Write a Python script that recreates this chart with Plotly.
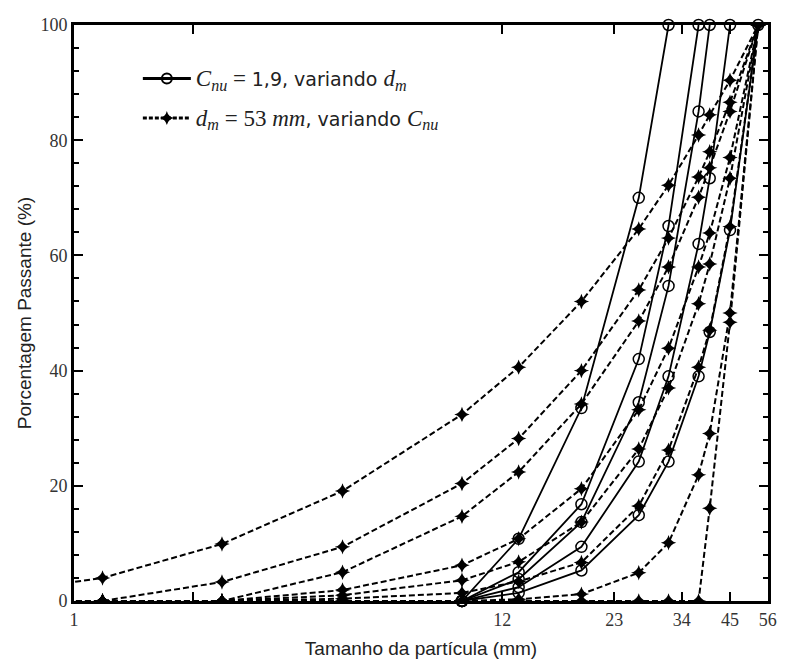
import math
import plotly.graph_objects as go

# Sieve openings (mm) used for the gradation curves
sieves = [0.6, 1.18, 2.36, 4.75, 9.5, 13.2, 19, 26.5, 31.5, 37.5, 40, 45, 53]

# d_m = 53 mm, varying C_nu (percent passing at every sieve)
dashed_curves = [
    [1.2, 4.0, 9.9, 19.1, 32.4, 40.6, 52.0, 64.6, 72.2, 80.9, 84.4, 90.4, 100],
    [0, 0, 3.3, 9.4, 20.4, 28.2, 40.0, 54.0, 63.0, 73.6, 78.0, 86.6, 100],
    [0, 0, 0, 5.0, 14.7, 22.4, 34.2, 48.6, 58.0, 70.1, 75.2, 85.0, 100],
    [0, 0, 0, 1.9, 6.2, 10.8, 19.5, 33.2, 43.9, 58.0, 63.9, 77.0, 100],
    [0, 0, 0, 1.0, 3.6, 6.8, 13.7, 26.4, 37.0, 51.6, 58.5, 73.4, 100],
    [0, 0, 0, 0.4, 1.4, 3.4, 6.7, 16.5, 26.2, 40.6, 47.0, 65.0, 100],
    [0, 0, 0, 0, 0, 0.3, 1.2, 4.9, 10.1, 21.9, 29.1, 50.0, 100],
    [0, 0, 0, 0, 0, 0, 0, 0, 0, 0, 16.1, 48.4, 100],
]

# C_nu = 1,9, varying d_m (sizes and percent passing)
solid_x = [
    [9.5, 13.2, 19, 26.5, 31.5],
    [9.5, 13.2, 19, 26.5, 31.5, 37.5],
    [9.5, 13.2, 19, 26.5, 31.5, 37.5, 40],
    [9.5, 13.2, 19, 26.5, 31.5, 37.5, 40, 45],
    [9.5, 13.2, 19, 26.5, 31.5, 37.5, 40, 45, 53],
]
solid_y = [
    [0, 10.8, 33.5, 70.0, 100],
    [0, 5.0, 16.8, 42.0, 65.1, 100],
    [0, 3.8, 13.7, 34.5, 54.7, 85.0, 100],
    [0, 2.4, 9.4, 24.2, 39.0, 62.0, 73.4, 100],
    [0, 1.4, 5.3, 14.9, 24.2, 39.0, 46.7, 64.4, 100],
]

x_tickvals = [1, 2, 12, 23, 34, 45, 56]
x_ticktext = ["1", "", "12", "23", "34", "45", "56"]
y_tickvals = [0, 20, 40, 60, 80, 100]

SERIF = "Liberation Serif"
SANS = "DejaVu Sans"
MATH = f"font-family:{SERIF};font-size:23px"

legend_solid = (
    f"<span style='{MATH}'><i>C</i><sub><i>nu</i></sub>&nbsp;=&nbsp;</span>1,9, variando "
    f"<span style='{MATH}'><i>d</i><sub><i>m</i></sub></span>"
)
legend_dashed = (
    f"<span style='{MATH}'><i>d</i><sub><i>m</i></sub>&nbsp;=&nbsp;53&nbsp;<i>mm</i></span>, variando "
    f"<span style='{MATH}'><i>C</i><sub><i>nu</i></sub></span>"
)

dash_style = "6px,3px"
fig = go.Figure()

for ys in dashed_curves:
    fig.add_trace(go.Scatter(
        x=sieves, y=ys, mode="lines+markers", showlegend=False, cliponaxis=True,
        line=dict(color="black", width=2, dash=dash_style),
        marker=dict(symbol="star-diamond", size=11, color="black"),
    ))

for xs, ys in zip(solid_x, solid_y):
    fig.add_trace(go.Scatter(
        x=xs, y=ys, mode="lines+markers", showlegend=False, cliponaxis=False,
        line=dict(color="black", width=1.8),
        marker=dict(symbol="circle-open", size=11, color="black", line=dict(width=1.5)),
    ))

# Legend entries (thicker sample lines)
fig.add_trace(go.Scatter(
    x=[None], y=[None], mode="lines+markers", name=legend_solid, legendgroup="a",
    line=dict(color="black", width=3),
    marker=dict(symbol="circle-open", size=10, color="black", line=dict(width=2)),
))
fig.add_trace(go.Scatter(
    x=[None], y=[None], mode="lines+markers", name=legend_dashed, legendgroup="b",
    line=dict(color="black", width=3, dash="4px,2px"),
    marker=dict(symbol="star-diamond", size=10, color="black"),
))

axis_common = dict(
    showline=True, linecolor="black", linewidth=3, mirror="ticks",
    ticks="inside", tickcolor="black", tickwidth=2, ticklen=9,
    showgrid=False, zeroline=False, automargin=False,
    tickfont=dict(family=SERIF, size=18, color="#333"),
    title_font=dict(family="Liberation Sans", size=19, color="#222"),
)

fig.update_xaxes(
    type="log", range=[0, math.log10(56.1)],
    tickmode="array", tickvals=x_tickvals, ticktext=x_ticktext,
    title_text="Tamanho da partícula (mm)", title_standoff=14,
    **axis_common,
)
fig.update_yaxes(
    range=[0, 100], tickmode="array", tickvals=y_tickvals,
    minor=dict(dtick=4, ticks="inside", ticklen=5, tickwidth=2, tickcolor="black"),
    title_text="Porcentagem Passante (%)", title_standoff=4,
    **axis_common,
)

fig.update_layout(
    width=785, height=666,
    margin=dict(l=74, r=17, t=25, b=65),
    paper_bgcolor="white", plot_bgcolor="white",
    legend=dict(
        x=0.092, y=0.94, xanchor="left", yanchor="top",
        bgcolor="rgba(0,0,0,0)", tracegroupgap=12, itemwidth=48,
        font=dict(family=SANS, size=19, color="#222"),
    ),
)

fig.write_html("out.html")
